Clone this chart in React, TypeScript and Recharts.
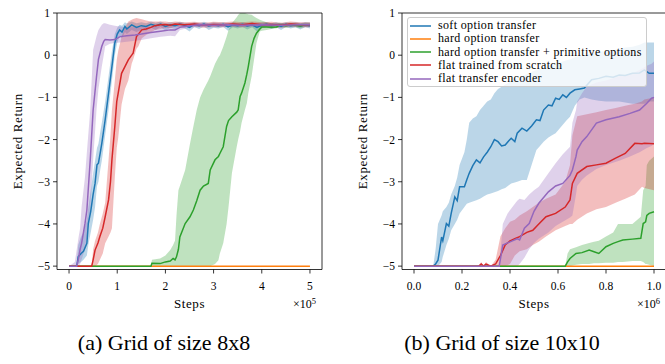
import { Area, ComposedChart, Line, ReferenceArea, XAxis, YAxis } from "recharts";

type Pt = [number, number, number, number]; // [steps, mean, low, high]

// ---- (a) grid 8x8, steps in units of 1e5 ----
const softA: Pt[] = [
  [0, -5, -5, -5], [0.1, -5, -5, -5], [0.16, -5, -5, -4.95], [0.19, -4.78, -4.95, -4.5],
  [0.25, -4.7, -4.9, -4.3], [0.3, -4.65, -4.85, -4.2], [0.37, -4.46, -4.75, -3.9],
  [0.4, -3.99, -4.5, -3.6], [0.45, -3.7, -4.2, -3.2], [0.5, -3.3, -3.9, -2.8],
  [0.54, -3.04, -3.6, -2.5], [0.58, -2.6, -3.1, -2.2], [0.61, -2.56, -3.0, -2.1],
  [0.65, -2.3, -2.7, -1.8], [0.68, -2.09, -2.5, -1.6], [0.75, -1.53, -1.9, -1.1],
  [0.82, -0.9, -1.3, -0.5], [0.89, -0.27, -0.6, 0.1], [0.95, 0.29, 0.0, 0.5],
  [1.0, 0.5, 0.3, 0.65], [1.05, 0.6, 0.45, 0.72], [1.1, 0.55, 0.4, 0.7],
  [1.16, 0.68, 0.55, 0.78], [1.2, 0.62, 0.5, 0.75], [1.3, 0.72, 0.6, 0.8],
  [1.4, 0.66, 0.55, 0.76], [1.5, 0.7, 0.6, 0.78], [1.6, 0.68, 0.58, 0.76],
  [1.7, 0.73, 0.65, 0.8], [1.8, 0.7, 0.6, 0.77], [1.9, 0.74, 0.67, 0.8],
  [2.0, 0.68, 0.58, 0.76], [2.1, 0.72, 0.65, 0.78], [2.2, 0.7, 0.62, 0.77],
  [2.3, 0.74, 0.68, 0.79], [2.4, 0.71, 0.64, 0.77], [2.5, 0.66, 0.56, 0.75],
  [2.6, 0.73, 0.67, 0.78], [2.7, 0.7, 0.62, 0.76], [2.8, 0.74, 0.68, 0.79],
  [2.9, 0.69, 0.6, 0.76], [3.0, 0.72, 0.65, 0.78], [3.1, 0.7, 0.63, 0.77],
  [3.2, 0.73, 0.67, 0.78], [3.3, 0.67, 0.58, 0.75], [3.4, 0.72, 0.66, 0.78],
  [3.5, 0.7, 0.63, 0.76], [3.6, 0.73, 0.67, 0.78], [3.7, 0.69, 0.61, 0.76],
  [3.8, 0.72, 0.66, 0.78], [3.9, 0.66, 0.56, 0.74], [4.0, 0.71, 0.64, 0.77],
  [4.1, 0.73, 0.67, 0.78], [4.2, 0.7, 0.62, 0.76], [4.3, 0.72, 0.66, 0.78],
  [4.4, 0.68, 0.6, 0.75], [4.5, 0.73, 0.67, 0.78], [4.6, 0.7, 0.63, 0.77],
  [4.7, 0.72, 0.66, 0.78], [4.8, 0.69, 0.61, 0.76], [4.9, 0.72, 0.66, 0.78],
  [5.0, 0.7, 0.63, 0.77],
];
const hardA: Pt[] = [[0, -5, -5, -5], [5.0, -5, -5, -5]];
const primA: Pt[] = [
  [0, -5, -5, -5], [1.7, -5, -5, -5], [1.72, -4.93, -5, -4.85], [1.89, -4.94, -5, -4.82],
  [2.0, -4.9, -5, -4.75], [2.1, -4.88, -5, -4.62], [2.16, -4.82, -5, -4.5],
  [2.2, -4.85, -5, -4.39], [2.23, -4.78, -5, -3.8], [2.27, -4.6, -5, -3.2],
  [2.3, -4.31, -5, -3.1], [2.41, -3.99, -5, -2.72], [2.51, -3.83, -5, -2.1],
  [2.58, -3.67, -5, -1.69], [2.65, -3.45, -5, -1.3], [2.72, -3.2, -5, -1.0],
  [2.79, -3.1, -5, -0.82], [2.89, -3.04, -5, -0.6], [2.93, -2.72, -5, -0.5],
  [3.03, -2.48, -4.95, -0.2], [3.1, -2.4, -4.86, -0.05], [3.13, -2.33, -4.7, 0.0],
  [3.2, -2.17, -4.46, 0.2], [3.27, -1.69, -4.0, 0.44], [3.31, -1.55, -3.6, 0.6],
  [3.38, -1.46, -2.8, 0.76], [3.48, -1.35, -2.17, 0.9], [3.51, -1.3, -2.0, 0.95],
  [3.55, -0.98, -1.8, 1.0], [3.58, -0.9, -1.61, 1.0], [3.65, -0.66, -1.3, 1.0],
  [3.69, -0.45, -1.14, 0.98], [3.72, -0.27, -0.9, 0.97], [3.79, 0.21, -0.5, 0.96],
  [3.84, 0.4, -0.1, 0.92], [3.89, 0.52, 0.29, 0.88], [3.96, 0.62, 0.56, 0.84],
  [4.0, 0.67, 0.58, 0.82], [4.1, 0.67, 0.6, 0.78], [4.2, 0.66, 0.62, 0.76],
  [4.31, 0.67, 0.64, 0.76], [4.37, 0.72, 0.66, 0.77], [4.5, 0.7, 0.65, 0.76],
  [4.6, 0.72, 0.66, 0.77], [4.7, 0.71, 0.66, 0.76], [4.8, 0.69, 0.64, 0.75],
  [4.9, 0.72, 0.67, 0.77], [5.0, 0.72, 0.67, 0.77],
];
const scratchA: Pt[] = [
  [0, -5, -5, -5], [0.47, -5, -5, -5], [0.5, -4.85, -5, -4.6], [0.54, -4.62, -5, -4.4],
  [0.6, -4.45, -4.95, -4.2], [0.64, -4.3, -4.85, -4.0], [0.7, -4.1, -4.7, -3.75],
  [0.75, -3.83, -4.46, -3.5], [0.82, -3.43, -4.3, -2.48], [0.86, -3.0, -4.2, -1.9],
  [0.89, -2.48, -4.1, -1.3], [0.95, -1.69, -2.9, -0.6], [0.99, -1.1, -2.2, -0.11],
  [1.02, -0.9, -1.96, 0.1], [1.09, -0.43, -1.17, 0.44], [1.16, -0.27, -0.8, 0.65],
  [1.23, -0.11, -0.6, 0.8], [1.3, 0.0, -0.2, 0.84], [1.33, 0.05, -0.11, 0.86],
  [1.4, 0.44, 0.15, 0.88], [1.44, 0.5, 0.21, 0.87], [1.51, 0.6, 0.4, 0.85],
  [1.6, 0.62, 0.48, 0.82], [1.7, 0.66, 0.54, 0.8], [1.78, 0.7, 0.6, 0.8],
  [1.9, 0.72, 0.62, 0.8], [2.0, 0.73, 0.65, 0.8], [2.1, 0.71, 0.64, 0.78],
  [2.2, 0.74, 0.68, 0.8], [2.4, 0.72, 0.66, 0.78], [2.6, 0.74, 0.68, 0.79],
  [2.8, 0.71, 0.65, 0.77], [3.0, 0.73, 0.67, 0.79], [3.2, 0.72, 0.66, 0.78],
  [3.4, 0.74, 0.68, 0.8], [3.6, 0.72, 0.66, 0.78], [3.8, 0.75, 0.69, 0.8],
  [4.0, 0.72, 0.66, 0.78], [4.2, 0.73, 0.67, 0.79], [4.4, 0.71, 0.65, 0.77],
  [4.6, 0.74, 0.68, 0.8], [4.8, 0.72, 0.66, 0.78], [5.0, 0.72, 0.66, 0.78],
];
const encoderA: Pt[] = [
  [0, -5, -5, -5], [0.12, -5, -5, -4.9], [0.16, -5.0, -5, -4.6], [0.2, -4.8, -5, -4.3],
  [0.23, -4.6, -4.95, -4.1], [0.26, -4.46, -4.85, -3.6], [0.33, -4.0, -4.6, -2.9],
  [0.37, -3.67, -4.3, -2.3], [0.44, -2.48, -3.67, -1.3], [0.5, -1.3, -2.48, 0.13],
  [0.57, -0.51, -1.3, 0.45], [0.61, -0.1, -0.8, 0.6], [0.68, 0.21, -0.27, 0.72],
  [0.72, 0.33, 0.0, 0.76], [0.75, 0.37, 0.21, 0.76], [0.85, 0.36, 0.27, 0.72],
  [0.95, 0.37, 0.29, 0.7], [1.06, 0.44, 0.3, 0.68], [1.2, 0.46, 0.32, 0.66],
  [1.37, 0.48, 0.34, 0.66], [1.5, 0.5, 0.36, 0.66], [1.7, 0.54, 0.4, 0.68],
  [1.9, 0.57, 0.44, 0.7], [2.1, 0.6, 0.46, 0.72], [2.2, 0.6, 0.45, 0.72],
  [2.3, 0.66, 0.6, 0.72], [2.5, 0.7, 0.65, 0.75], [2.7, 0.72, 0.67, 0.77],
  [3.0, 0.71, 0.66, 0.76], [3.3, 0.72, 0.67, 0.77], [3.6, 0.71, 0.66, 0.76],
  [4.0, 0.72, 0.67, 0.77], [4.4, 0.71, 0.66, 0.76], [4.8, 0.72, 0.67, 0.77],
  [5.0, 0.72, 0.67, 0.77],
];

// ---- (b) grid 10x10, steps in units of 1e6 ----
const softB: Pt[] = [
  [0, -5, -5, -5], [0.08, -5, -5, -5], [0.09, -4.95, -5, -4.6], [0.1, -4.86, -5, -4.0],
  [0.115, -4.31, -4.9, -3.8], [0.12, -4.4, -4.78, -3.7], [0.135, -3.99, -4.5, -3.6],
  [0.145, -4.05, -4.35, -3.5], [0.155, -3.75, -4.15, -3.3], [0.17, -3.36, -4.0, -3.1],
  [0.18, -3.45, -3.9, -2.9], [0.19, -3.12, -3.75, -2.6], [0.21, -3.12, -3.6, -2.3],
  [0.22, -2.95, -3.52, -2.0], [0.23, -2.8, -3.5, -1.6], [0.245, -2.62, -3.47, -1.5],
  [0.26, -2.48, -3.44, -1.45], [0.275, -2.55, -3.4, -1.3], [0.29, -2.41, -3.35, -1.2],
  [0.305, -2.3, -3.3, -1.1], [0.32, -2.17, -3.28, -1.05], [0.335, -2.0, -3.25, -0.9],
  [0.35, -2.05, -3.22, -0.8], [0.365, -2.15, -3.18, -0.75], [0.38, -2.13, -3.15, -0.7],
  [0.395, -2.03, -3.08, -0.65], [0.405, -1.97, -3.04, -0.6], [0.42, -2.05, -3.02, -0.57],
  [0.43, -1.85, -3.0, -0.55], [0.45, -1.73, -2.96, -0.5], [0.47, -1.8, -2.96, -0.45],
  [0.49, -1.68, -2.6, -0.4], [0.51, -1.53, -2.25, -0.35], [0.525, -1.55, -2.15, -0.32],
  [0.54, -1.3, -2.05, -0.3], [0.56, -1.18, -1.95, -0.25], [0.575, -1.2, -1.9, -0.22],
  [0.59, -1.02, -1.85, -0.2], [0.605, -1.05, -1.75, -0.18], [0.62, -0.94, -1.65, -0.15],
  [0.635, -1.0, -1.55, -0.12], [0.65, -0.9, -1.46, -0.1], [0.67, -0.82, -1.2, -0.05],
  [0.69, -0.8, -1.05, -0.02], [0.71, -0.78, -1.0, 0.0], [0.74, -0.58, -1.05, 0.05],
  [0.77, -0.55, -1.08, 0.08], [0.8, -0.5, -1.1, 0.1], [0.83, -0.52, -1.1, 0.12],
  [0.855, -0.47, -1.1, 0.15], [0.88, -0.48, -1.12, 0.18], [0.91, -0.43, -1.15, 0.2],
  [0.94, -0.42, -1.15, 0.25], [0.96, -0.35, -1.15, 0.3], [0.98, -0.43, -1.1, 0.3],
  [1.0, -0.43, -1.1, 0.3],
];
const hardB: Pt[] = [[0, -5, -5, -5], [1.0, -5, -5, -5]];
const primB: Pt[] = [
  [0, -5, -5, -5], [0.63, -5, -5, -5], [0.64, -4.9, -5, -4.7], [0.65, -4.82, -5, -4.6],
  [0.675, -4.7, -4.97, -4.55], [0.7, -4.68, -4.95, -4.5], [0.73, -4.62, -4.95, -4.45],
  [0.75, -4.66, -4.93, -4.42], [0.77, -4.7, -4.93, -4.4], [0.8, -4.54, -4.92, -4.3],
  [0.83, -4.46, -4.92, -4.2], [0.85, -4.42, -4.9, -4.0], [0.87, -4.38, -4.9, -4.0],
  [0.91, -4.36, -4.88, -4.0], [0.945, -4.34, -4.88, -3.83], [0.955, -3.99, -4.9, -3.2],
  [0.965, -3.95, -4.95, -3.1], [0.97, -3.8, -4.95, -2.6], [0.98, -3.75, -4.97, -2.5],
  [1.0, -3.71, -5, -2.4],
];
const scratchB: Pt[] = [
  [0, -5, -5, -5], [0.27, -5, -5, -5], [0.28, -4.95, -5, -4.9], [0.29, -5, -5, -5],
  [0.3, -4.95, -5, -4.9], [0.32, -5, -5, -5], [0.34, -4.95, -5, -4.85],
  [0.36, -4.75, -5, -4.3], [0.38, -4.5, -5, -4.1], [0.4, -4.4, -4.95, -3.95],
  [0.42, -4.35, -4.75, -3.9], [0.44, -4.3, -4.65, -3.8], [0.47, -4.2, -4.6, -3.7],
  [0.495, -4.15, -4.5, -3.6], [0.52, -4.0, -4.42, -3.5], [0.55, -3.83, -4.3, -3.4],
  [0.59, -3.75, -4.15, -3.3], [0.63, -3.6, -4.05, -3.0], [0.65, -3.43, -4.0, -2.6],
  [0.66, -3.04, -4.0, -1.9], [0.68, -2.8, -3.9, -1.45], [0.72, -2.64, -3.75, -1.4],
  [0.76, -2.6, -3.65, -1.35], [0.8, -2.56, -3.6, -1.3], [0.84, -2.44, -3.5, -1.25],
  [0.88, -2.33, -3.4, -1.2], [0.92, -2.09, -3.3, -1.15], [0.95, -2.1, -3.12, -1.1],
  [0.96, -2.09, -3.15, -1.05], [1.0, -2.1, -3.2, -1.0],
];
const encoderB: Pt[] = [
  [0, -5, -5, -5], [0.355, -5, -5, -5], [0.37, -4.5, -5, -4.0], [0.39, -4.45, -5, -3.75],
  [0.41, -4.4, -5, -3.6], [0.43, -4.35, -5, -3.45], [0.44, -4.38, -4.95, -3.4],
  [0.46, -4.1, -4.8, -3.43], [0.48, -3.99, -4.6, -3.3], [0.5, -3.7, -4.45, -3.2],
  [0.52, -3.51, -4.35, -3.12], [0.56, -3.24, -4.2, -2.8], [0.59, -3.1, -4.05, -2.56],
  [0.62, -3.04, -3.95, -2.35], [0.65, -2.85, -3.85, -2.17], [0.66, -2.72, -3.8, -1.6],
  [0.675, -2.4, -3.3, -1.3], [0.68, -2.25, -3.1, -1.1], [0.7, -2.05, -2.95, -0.9],
  [0.72, -1.93, -2.85, -0.74], [0.76, -1.61, -2.7, -0.65], [0.8, -1.53, -2.6, -0.6],
  [0.855, -1.46, -2.5, -0.5], [0.9, -1.38, -2.4, -0.45], [0.94, -1.3, -2.3, -0.35],
  [0.97, -1.14, -2.2, -0.25], [0.99, -1.02, -2.15, -0.2], [1.0, -1.0, -2.1, -0.15],
];

const seriesNames = [
  "soft option transfer",
  "hard option transfer",
  "hard option transfer + primitive options",
  "flat trained from scratch",
  "flat transfer encoder",
];
const colors = ["#1f77b4", "#ff7f0e", "#2ca02c", "#d62728", "#9467bd"];
const yTicks = [-5, -4, -3, -2, -1, 0, 1];
const xTicksA = [0, 1, 2, 3, 4, 5];
const xTicksB = [0, 0.2, 0.4, 0.6, 0.8, 1.0];

const Y_MIN = -5.08;
const SERIF = "Liberation Serif";
const tickFont = { fontFamily: SERIF, fontSize: 11.5, fill: "#000" };
const labelFont = { fontFamily: SERIF, fontSize: 13, fill: "#000", letterSpacing: 0.6 };

const toRows = (pts: Pt[]) => pts.map(([x, y, lo, hi]) => ({ x, y, band: [lo, hi] }));
const minus = (v: number, digits = 0) => v.toFixed(digits).replace("-", "\u2212");

type PanelProps = {
  series: Pt[][];
  xDomain: [number, number];
  xTicks: number[];
  xDigits: number;
  width: number;
  yAxisWidth: number;
  right: number;
  yLabelOffset: number;
};

const Panel = ({ series, xDomain, xTicks, xDigits, width, yAxisWidth, right, yLabelOffset }: PanelProps) => (
  <ComposedChart
    width={width}
    height={320}
    margin={{ top: 13, right, bottom: 0, left: 0 }}
    style={{ fontFamily: SERIF }}
  >
    <XAxis
      dataKey="x"
      type="number"
      domain={xDomain}
      ticks={xTicks}
      allowDataOverflow
      height={50.5}
      axisLine={false}
      tickSize={4}
      tickMargin={8}
      tickLine={{ stroke: "#000", strokeWidth: 0.8 }}
      tick={tickFont}
      tickFormatter={(v: number) => minus(v, xDigits)}
      label={{ value: "Steps", position: "insideBottom", offset: 12, style: labelFont }}
    />
    <YAxis
      type="number"
      domain={[Y_MIN, 1]}
      ticks={yTicks}
      allowDataOverflow
      width={yAxisWidth}
      axisLine={false}
      tickSize={4}
      tickMargin={3}
      tickLine={{ stroke: "#000", strokeWidth: 0.8 }}
      tick={tickFont}
      tickFormatter={(v: number) => minus(v)}
      label={{
        value: "Expected Return",
        angle: -90,
        position: "insideLeft",
        offset: yLabelOffset,
        style: { ...labelFont, textAnchor: "middle" },
      }}
    />
    {series.map((pts, i) => [
      <Area
        key={`band-${i}`}
        data={toRows(pts)}
        dataKey="band"
        type="linear"
        stroke="none"
        fill={colors[i]}
        fillOpacity={0.3}
        isAnimationActive={false}
      />,
      <Line
        key={`line-${i}`}
        data={toRows(pts)}
        dataKey="y"
        type="linear"
        stroke={colors[i]}
        strokeWidth={1.5}
        dot={false}
        isAnimationActive={false}
      />,
    ])}
    <ReferenceArea
      x1={xDomain[0]}
      x2={xDomain[1]}
      y1={Y_MIN}
      y2={1}
      fill="none"
      stroke="#000"
      strokeWidth={0.8}
      ifOverflow="visible"
    />
  </ComposedChart>
);

const offsetText = (left: number, exp: string) => (
  <div
    style={{
      position: "absolute",
      left,
      top: 294,
      fontFamily: SERIF,
      fontSize: 12,
      lineHeight: "14px",
    }}
  >
    ×10<sup style={{ fontSize: 8.5, verticalAlign: 4 }}>{exp}</sup>
  </div>
);

const caption = (left: number, text: string) => (
  <div
    style={{
      position: "absolute",
      left,
      top: 329,
      width: 340,
      textAlign: "center",
      fontFamily: SERIF,
      fontSize: 22,
      lineHeight: "28px",
    }}
  >
    {text}
  </div>
);

export default function App() {
  return (
    <div
      style={{
        position: "absolute",
        left: 0,
        top: 0,
        width: 665,
        height: 364,
        overflow: "hidden",
        background: "#fff",
        fontFamily: SERIF,
      }}
    >
      <div style={{ position: "absolute", left: 0, top: 0 }}>
        <Panel
          series={[softA, hardA, primA, scratchA, encoderA]}
          xDomain={[-0.25, 5.25]}
          xTicks={xTicksA}
          xDigits={0}
          width={330}
          yAxisWidth={57}
          right={8}
          yLabelOffset={17}
        />
      </div>
      <div style={{ position: "absolute", left: 330, top: 0 }}>
        <Panel
          series={[softB, hardB, primB, scratchB, encoderB]}
          xDomain={[-0.05, 1.05]}
          xTicks={xTicksB}
          xDigits={1}
          width={340}
          yAxisWidth={72}
          right={4}
          yLabelOffset={32}
        />
      </div>

      {/* legend of panel (b) */}
      <div
        style={{
          position: "absolute",
          left: 407,
          top: 17,
          width: 238,
          height: 68,
          background: "rgba(255,255,255,0.8)",
          border: "1px solid #cccccc",
          borderRadius: 3,
          fontFamily: SERIF,
          fontSize: 12,
          letterSpacing: 0.35,
        }}
      >
        {seriesNames.map((name, i) => (
          <div
            key={name}
            style={{
              position: "absolute",
              left: 2,
              top: 1 + i * 13.3,
              height: 13,
              display: "flex",
              alignItems: "center",
              whiteSpace: "nowrap",
            }}
          >
            <svg width={21} height={4} style={{ marginRight: 7 }}>
              <line x1={0} y1={2} x2={21} y2={2} stroke={colors[i]} strokeWidth={1.5} />
            </svg>
            {name}
          </div>
        ))}
      </div>

      {offsetText(293, "5")}
      {offsetText(637, "6")}
      {caption(-6, "(a) Grid of size 8x8")}
      {caption(332, "(b) Grid of size 10x10")}
    </div>
  );
}
